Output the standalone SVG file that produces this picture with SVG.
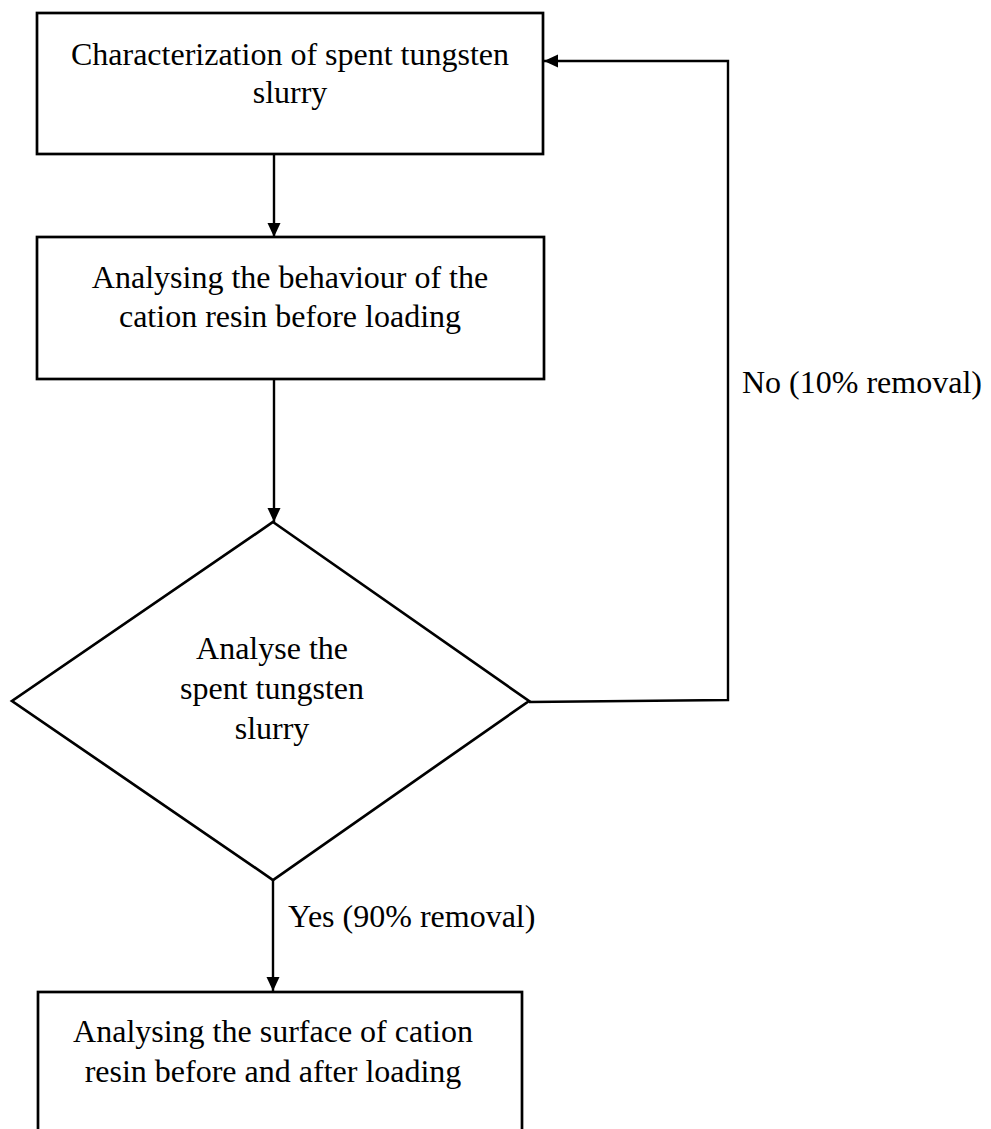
<svg xmlns="http://www.w3.org/2000/svg" width="991" height="1129" viewBox="0 0 991 1129">
<style>
.box{fill:#fff;stroke:#000;stroke-width:2.7}
.t{font-family:"Liberation Serif","Times New Roman",serif;font-size:32px;fill:#000;text-anchor:middle}
.l{font-family:"Liberation Serif","Times New Roman",serif;font-size:32px;fill:#000}
.c{fill:none;stroke:#000;stroke-width:2.4}
</style>
<defs>
<marker id="ah" markerWidth="14" markerHeight="14" refX="14" refY="7" orient="auto" markerUnits="userSpaceOnUse" viewBox="0 0 14 14">
<path d="M0,0.5 L14,7 L0,13.5 z" fill="#000"/>
</marker>
</defs>
<rect width="991" height="1129" fill="#fff"/>
<g id="connectors">
<line class="c" x1="274" y1="154" x2="274" y2="237" marker-end="url(#ah)"/>
<line class="c" x1="274" y1="379" x2="274" y2="522" marker-end="url(#ah)"/>
<polyline class="c" points="529,702 728,700 728,61 544,61" marker-end="url(#ah)"/>
<line class="c" x1="273" y1="880" x2="273" y2="991" marker-end="url(#ah)"/>
<text class="l" x="288" y="927">Yes (90% removal)</text>
<text class="l" x="742" y="393">No (10% removal)</text>
</g>
<g id="n1">
<rect class="box" x="37" y="13" width="506" height="141"/>
<text class="t" x="290" y="65">Characterization of spent tungsten</text>
<text class="t" x="290" y="103">slurry</text>
</g>
<g id="n2">
<rect class="box" x="37" y="237" width="507" height="142"/>
<text class="t" x="290" y="288">Analysing the behaviour of the</text>
<text class="t" x="290" y="327">cation resin before loading</text>
</g>
<g id="n3">
<polygon class="box" points="273,522 529,701 273,880 12,701"/>
<text class="t" x="272" y="659">Analyse the</text>
<text class="t" x="272" y="699">spent tungsten</text>
<text class="t" x="272" y="739">slurry</text>
</g>
<g id="n4">
<rect class="box" x="38" y="992" width="484" height="150"/>
<text class="t" x="273" y="1042">Analysing the surface of cation</text>
<text class="t" x="273" y="1082">resin before and after loading</text>
</g>
</svg>
